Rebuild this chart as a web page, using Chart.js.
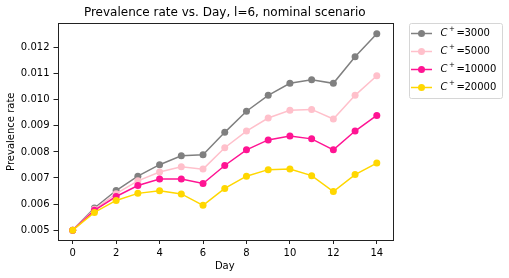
<!DOCTYPE html>
<html>
<head>
<meta charset="utf-8">
<script src="https://cdn.jsdelivr.net/npm/chart.js@4"></script>
<style>
  body { margin: 0; background: #fff; }
  #wrap { width: 509px; height: 278px; }
</style>
</head>
<body>
<div id="wrap"><canvas id="prevChart" width="509" height="278"></canvas></div>
<script>
const days = [0, 1, 2, 3, 4, 5, 6, 7, 8, 9, 10, 11, 12, 13, 14];
const c3000 = [0.00500, 0.00585, 0.00652, 0.00707, 0.00751, 0.00785, 0.00789, 0.00875, 0.00956, 0.01017, 0.01063, 0.01077, 0.01063, 0.01165, 0.01253];
const c5000 = [0.00500, 0.00580, 0.00640, 0.00689, 0.00723, 0.00743, 0.00734, 0.00816, 0.00880, 0.00930, 0.00960, 0.00963, 0.00926, 0.01017, 0.01092];
const c10000 = [0.00500, 0.00576, 0.00629, 0.00671, 0.00696, 0.00696, 0.00679, 0.00748, 0.00808, 0.00846, 0.00861, 0.00850, 0.00808, 0.00880, 0.00940];
const c20000 = [0.00500, 0.00568, 0.00614, 0.00641, 0.00651, 0.00639, 0.00595, 0.00660, 0.00707, 0.00732, 0.00734, 0.00709, 0.00648, 0.00713, 0.00757];
const seriesNames = ['3000', '5000', '10000', '20000'];
const seriesColors = ['#808080', '#ffc0cb', '#ff1493', '#ffd700'];
const xTicks = [0, 2, 4, 6, 8, 10, 12, 14];
const yTicks = [0.005, 0.006, 0.007, 0.008, 0.009, 0.010, 0.011, 0.012];

const font = 'DejaVu Sans';

function makeSet(values, i) {
    return {
        label: 'C+=' + seriesNames[i],
        data: days.map((d, k) => ({ x: d, y: values[k] })),
        borderColor: seriesColors[i],
        backgroundColor: seriesColors[i],
        borderWidth: 1.5,
        pointRadius: 3.5,
        pointHoverRadius: 3.5,
        pointBorderWidth: 0,
        tension: 0,
        fill: false,
        order: 4 - i
    };
}

// frame around plot area + matplotlib-like legend
const framePlugin = {
    id: 'frame',
    afterDraw(chart) {
        const { ctx, chartArea: a } = chart;
        ctx.save();
        ctx.strokeStyle = '#222';
        ctx.lineWidth = 1;
        ctx.strokeRect(Math.round(a.left) + 0.5, Math.round(a.top) + 0.5,
            Math.round(a.right - a.left), Math.round(a.bottom - a.top));

        // legend box
        const bx = 409.5, by = 23.5, bw = 93, bh = 75;
        ctx.strokeStyle = '#d6d6d6';
        ctx.fillStyle = 'rgba(255,255,255,0.8)';
        ctx.beginPath();
        ctx.roundRect(bx, by, bw, bh, 2);
        ctx.fill();
        ctx.stroke();

        const rows = [33.5, 51.5, 69.5, 87.5];
        seriesNames.forEach((name, i) => {
            const y = rows[i];
            ctx.strokeStyle = seriesColors[i];
            ctx.fillStyle = seriesColors[i];
            ctx.lineWidth = 1.5;
            ctx.beginPath();
            ctx.moveTo(411, y);
            ctx.lineTo(432, y);
            ctx.stroke();
            ctx.beginPath();
            ctx.arc(421.5, y, 3.5, 0, Math.PI * 2);
            ctx.fill();

            ctx.fillStyle = '#000';
            ctx.textBaseline = 'middle';
            ctx.font = 'italic 10px "' + font + '"';
            ctx.fillText('C', 440.5, y);
            ctx.font = '7px "' + font + '"';
            ctx.fillText('+', 449, y - 4);
            ctx.font = '10px "' + font + '"';
            ctx.fillText('=', 456.5, y);
            ctx.fillText(name, 464.5, y);
        });
        ctx.restore();
    }
};

const ctx = document.getElementById('prevChart').getContext('2d');

const prevChart = new Chart(ctx, {
    type: 'line',
    data: {
        datasets: [makeSet(c3000, 0), makeSet(c5000, 1), makeSet(c10000, 2), makeSet(c20000, 3)]
    },
    options: {
        responsive: false,
        animation: false,
        events: [],
        layout: { padding: { left: 0, right: 117, top: 0, bottom: 0 } },
        plugins: {
            legend: { display: false },
            tooltip: { enabled: false },
            title: {
                display: true,
                text: 'Prevalence rate vs. Day, l=6, nominal scenario',
                fullSize: false,
                color: '#000',
                font: { family: font, size: 12, weight: 'normal' },
                padding: { top: 6, bottom: 3 }
            }
        },
        scales: {
            x: {
                type: 'linear',
                min: -0.7,
                max: 14.7,
                afterBuildTicks: s => { s.ticks = xTicks.map(v => ({ value: v })); },
                afterFit: s => { s.height = 38; },
                grid: { display: true, drawOnChartArea: false, tickLength: 4, color: '#222' },
                border: { display: false },
                ticks: { color: '#000', padding: 3, maxRotation: 0, font: { family: font, size: 10 }, callback: v => String(v) },
                title: { display: true, text: 'Day', color: '#000', font: { family: font, size: 10 }, padding: { top: 0, bottom: 6 } }
            },
            y: {
                type: 'linear',
                min: 0.004622,
                max: 0.012928,
                afterBuildTicks: s => { s.ticks = yTicks.map(v => ({ value: v })); },
                afterFit: s => { s.width = 57.5; },
                grid: { display: true, drawOnChartArea: false, tickLength: 4, color: '#222' },
                border: { display: false },
                ticks: { color: '#000', padding: 4, font: { family: font, size: 10 }, callback: v => v.toFixed(3) },
                title: { display: true, text: 'Prevalence rate', color: '#000', font: { family: font, size: 10 }, padding: { top: 5, bottom: 0 } }
            }
        }
    },
    plugins: [framePlugin]
});
</script>
</body>
</html>
